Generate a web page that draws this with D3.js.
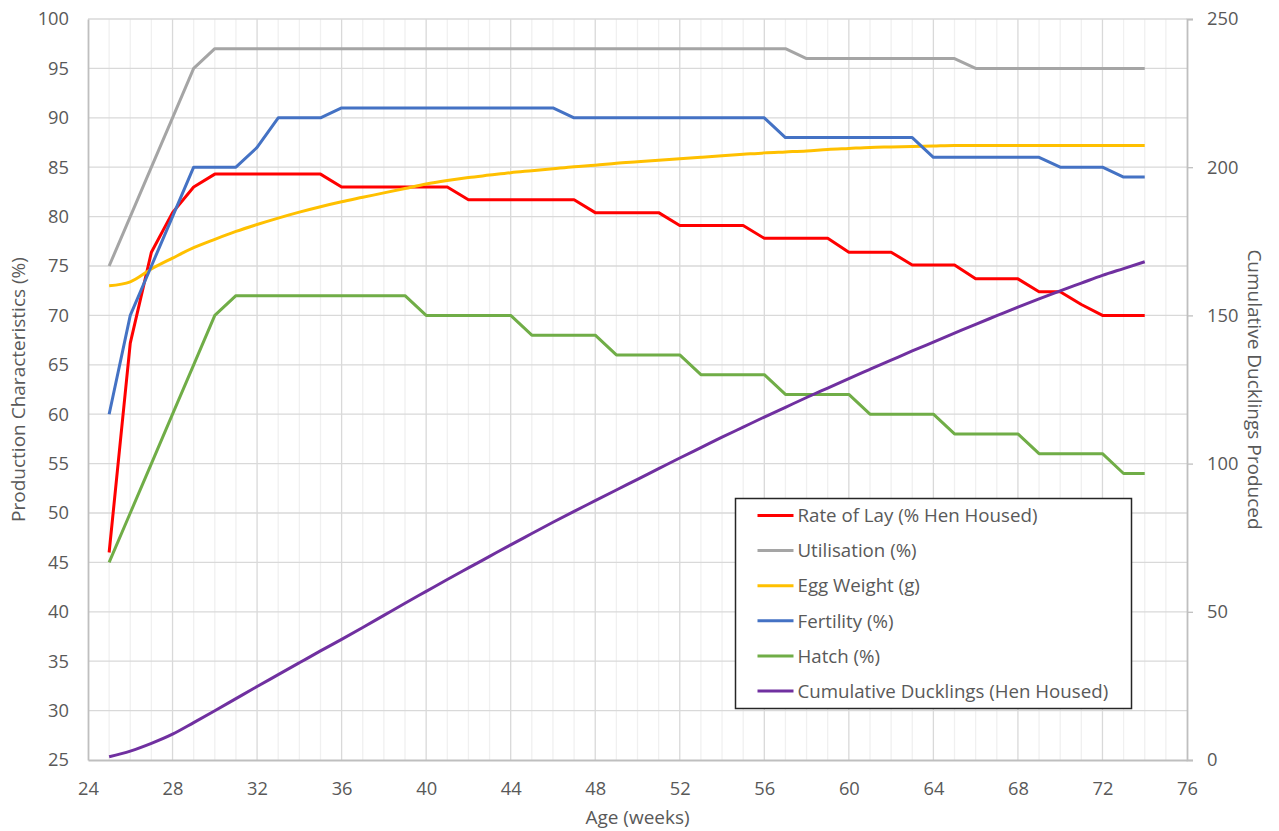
<!DOCTYPE html>
<html>
<head>
<meta charset="utf-8">
<script src="https://cdn.jsdelivr.net/npm/d3@7"></script>
<style>
  body { margin: 0; background: #fff; }
  text { font-family: "Open Sans", "Noto Sans", sans-serif; fill: #595959; }
</style>
</head>
<body>
<div class="chart"></div>
<script>
// age in weeks
var weeks = [25, 26, 27, 28, 29, 30, 31, 32, 33, 34, 35, 36, 37, 38, 39, 40, 41, 42, 43, 44,
  45, 46, 47, 48, 49, 50, 51, 52, 53, 54, 55, 56, 57, 58, 59, 60, 61, 62, 63, 64,
  65, 66, 67, 68, 69, 70, 71, 72, 73, 74];

// left axis series (%)
var rateOfLay = [46, 67.2, 76.4, 80.4, 83, 84.3, 84.3, 84.3, 84.3, 84.3, 84.3, 83, 83, 83, 83, 83, 83, 81.7, 81.7, 81.7,
  81.7, 81.7, 81.7, 80.4, 80.4, 80.4, 80.4, 79.1, 79.1, 79.1, 79.1, 77.8, 77.8, 77.8, 77.8, 76.4, 76.4, 76.4, 75.1, 75.1,
  75.1, 73.7, 73.7, 73.7, 72.4, 72.4, 71.1, 70, 70, 70];
var utilisation = [75, 80, 85, 90, 95, 97, 97, 97, 97, 97, 97, 97, 97, 97, 97, 97, 97, 97, 97, 97,
  97, 97, 97, 97, 97, 97, 97, 97, 97, 97, 97, 97, 97, 96, 96, 96, 96, 96, 96, 96,
  96, 95, 95, 95, 95, 95, 95, 95, 95, 95];
var eggWeight = [73.0, 73.4, 74.7, 75.8, 76.85, 77.7, 78.5, 79.2, 79.85, 80.45, 81.0, 81.5, 81.95, 82.4, 82.85, 83.3, 83.65, 83.95, 84.2, 84.45,
  84.65, 84.85, 85.05, 85.2, 85.4, 85.55, 85.7, 85.85, 86.0, 86.15, 86.3, 86.45, 86.55, 86.65, 86.8, 86.9, 87.0, 87.05, 87.1, 87.15,
  87.2, 87.2, 87.2, 87.2, 87.2, 87.2, 87.2, 87.2, 87.2, 87.2];
var fertility = [60, 70, 75, 80, 85, 85, 85, 87, 90, 90, 90, 91, 91, 91, 91, 91, 91, 91, 91, 91,
  91, 91, 90, 90, 90, 90, 90, 90, 90, 90, 90, 90, 88, 88, 88, 88, 88, 88, 88, 86,
  86, 86, 86, 86, 86, 85, 85, 85, 84, 84];
var hatch = [45, 50, 55, 60, 65, 70, 72, 72, 72, 72, 72, 72, 72, 72, 72, 70, 70, 70, 70, 70,
  68, 68, 68, 68, 66, 66, 66, 66, 64, 64, 64, 64, 62, 62, 62, 62, 60, 60, 60, 60,
  58, 58, 58, 58, 56, 56, 56, 56, 54, 54];

// right axis series
var cumulativeDucklings = [1.1, 3.0, 5.6, 8.7, 12.6, 16.6, 20.7, 24.8, 28.8, 32.8, 36.8, 40.7, 44.7, 48.8, 52.9, 56.9, 60.9, 64.8, 68.7, 72.6,
  76.4, 80.2, 83.9, 87.5, 91.1, 94.7, 98.3, 101.9, 105.4, 108.9, 112.3, 115.7, 119.0, 122.3, 125.5, 128.7, 131.8, 134.9, 138.0, 141.0,
  144.0, 147.0, 149.9, 152.8, 155.6, 158.3, 160.9, 163.5, 165.8, 168.1];

var seriesNames = ["Rate of Lay (% Hen Housed)", "Utilisation (%)", "Egg Weight (g)", "Fertility (%)", "Hatch (%)", "Cumulative Ducklings (Hen Housed)"];
var seriesColors = ["#ff0000", "#a5a5a5", "#ffc000", "#4472c4", "#70ad47", "#7030a0"];

var xTicks = [24, 28, 32, 36, 40, 44, 48, 52, 56, 60, 64, 68, 72, 76];
var yLeftTicks = [25, 30, 35, 40, 45, 50, 55, 60, 65, 70, 75, 80, 85, 90, 95, 100];
var yRightTicks = [0, 50, 100, 150, 200, 250];

var svgWidth = 1279;
var svgHeight = 831;
var margin = { top: 19, right: 92, bottom: 71, left: 88 };
var width = svgWidth - margin.left - margin.right;
var height = svgHeight - margin.top - margin.bottom;

var svg = d3.select(".chart")
  .append("svg")
  .attr("width", svgWidth)
  .attr("height", svgHeight);

var chartGroup = svg.append("g")
  .attr("transform", `translate(${margin.left}, ${margin.top})`);

var xScale = d3.scaleLinear().domain([24, 76]).range([0, width]);
var yLeft = d3.scaleLinear().domain([25, 100]).range([height, 0]);
var yRight = d3.scaleLinear().domain([0, 250]).range([height, 0]);

// gridlines: minor vertical every week, major every 4 weeks, horizontal every 5
var minorWeeks = d3.range(25, 76).filter(w => (w - 24) % 4 !== 0);
chartGroup.append("g").selectAll("line")
  .data(minorWeeks)
  .enter()
  .append("line")
  .attr("x1", d => xScale(d)).attr("x2", d => xScale(d))
  .attr("y1", 0).attr("y2", height)
  .attr("stroke", "#f0f0f0").attr("stroke-width", 1.3);

chartGroup.append("g").selectAll("line")
  .data(xTicks.slice(1, -1))
  .enter()
  .append("line")
  .attr("x1", d => xScale(d)).attr("x2", d => xScale(d))
  .attr("y1", 0).attr("y2", height)
  .attr("stroke", "#d9d9d9").attr("stroke-width", 1.3);

chartGroup.append("g").selectAll("line")
  .data(yLeftTicks.slice(1))
  .enter()
  .append("line")
  .attr("x1", 0).attr("x2", width)
  .attr("y1", d => yLeft(d)).attr("y2", d => yLeft(d))
  .attr("stroke", "#d9d9d9").attr("stroke-width", 1.3);

// axes
var bottomAxis = d3.axisBottom(xScale).tickValues(xTicks).tickSize(0).tickPadding(22);
var leftAxis = d3.axisLeft(yLeft).tickValues(yLeftTicks).tickSize(0).tickPadding(19);
var rightAxis = d3.axisRight(yRight).tickValues(yRightTicks).tickSize(6).tickPadding(14);

var gx = chartGroup.append("g")
  .attr("transform", `translate(0, ${height})`)
  .call(bottomAxis);
var gl = chartGroup.append("g").call(leftAxis);
var gr = chartGroup.append("g")
  .attr("transform", `translate(${width}, 0)`)
  .call(rightAxis);

[gx, gl, gr].forEach(function(g) {
  g.select(".domain").attr("stroke", "#bfbfbf").attr("stroke-width", 1.8);
  g.selectAll(".tick line").attr("stroke", "#bfbfbf").attr("stroke-width", 1.3);
  g.selectAll("text")
    .attr("font-family", "Open Sans")
    .attr("font-size", "18.3px")
    .attr("fill", "#595959");
});

// series lines
var leftSeries = [rateOfLay, utilisation, eggWeight, fertility, hatch];

var lineLeft = d3.line()
  .x((d, i) => xScale(weeks[i]))
  .y(d => yLeft(d));
var lineLeftSmooth = d3.line()
  .x((d, i) => xScale(weeks[i]))
  .y(d => yLeft(d))
  .curve(d3.curveMonotoneX);
var lineRight = d3.line()
  .x((d, i) => xScale(weeks[i]))
  .y(d => yRight(d))
  .curve(d3.curveMonotoneX);

leftSeries.forEach(function(values, i) {
  chartGroup.append("path")
    .datum(values)
    .attr("fill", "none")
    .attr("stroke", seriesColors[i])
    .attr("stroke-width", 3)
    .attr("stroke-linejoin", "round")
    .attr("d", i === 2 ? lineLeftSmooth : lineLeft);
});

chartGroup.append("path")
  .datum(cumulativeDucklings)
  .attr("fill", "none")
  .attr("stroke", seriesColors[5])
  .attr("stroke-width", 3)
  .attr("stroke-linejoin", "round")
  .attr("d", lineRight);

// axis titles
svg.append("text")
  .attr("transform", `translate(25, ${margin.top + height / 2}) rotate(-90)`)
  .attr("text-anchor", "middle")
  .attr("font-size", "19px")
  .text("Production Characteristics (%)");

svg.append("text")
  .attr("transform", `translate(1248, ${margin.top + height / 2}) rotate(90)`)
  .attr("text-anchor", "middle")
  .attr("font-size", "19px")
  .text("Cumulative Ducklings Produced");

svg.append("text")
  .attr("x", margin.left + width / 2)
  .attr("y", 824)
  .attr("text-anchor", "middle")
  .attr("font-size", "19px")
  .text("Age (weeks)");

// legend
var legend = svg.append("g").attr("transform", "translate(735.5, 498.5)");
legend.append("rect")
  .attr("width", 396)
  .attr("height", 210)
  .attr("fill", "#fff")
  .attr("stroke", "#262626")
  .attr("stroke-width", 1.5);

var legendRows = legend.selectAll(".row")
  .data(seriesNames)
  .enter()
  .append("g")
  .attr("class", "row")
  .attr("transform", (d, i) => `translate(0, ${17 + i * 35.1})`);

legendRows.append("line")
  .attr("x1", 22).attr("x2", 58)
  .attr("stroke", (d, i) => seriesColors[i])
  .attr("stroke-width", 3);

legendRows.append("text")
  .attr("x", 62)
  .attr("dy", "0.36em")
  .attr("font-size", "18.7px")
  .text(d => d);
</script>
</body>
</html>
